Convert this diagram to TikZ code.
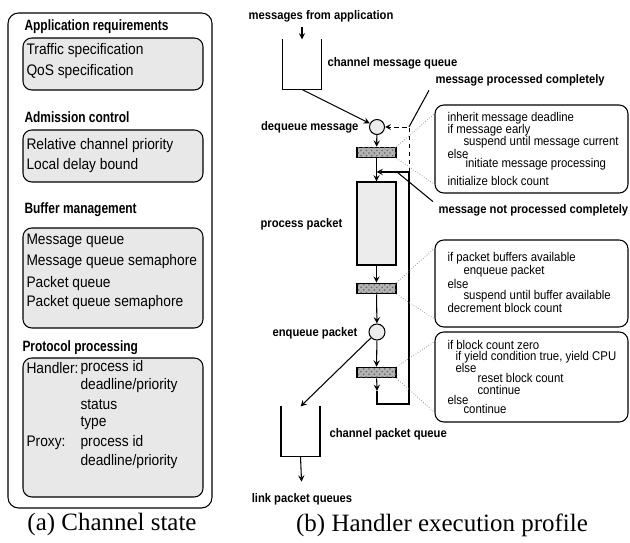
\documentclass[tikz,border=0pt]{standalone}
\usepackage{fontspec}
\setmainfont{Liberation Serif}
\newfontfamily\hv[FakeStretch=0.9]{Liberation Sans}
\newfontfamily\hvhead[FakeStretch=0.8]{Liberation Sans Bold}
\usepackage{tikz}
\usetikzlibrary{patterns}

\begin{document}
\begin{tikzpicture}[x = 0.02cm, y = -0.02cm, line width = 0.6pt,
                    head/.style = {anchor = west, inner sep = 0, font = \hvhead\fontsize{8.5}{10}\selectfont},
                    item/.style = {anchor = west, inner sep = 0, font = \hv\fontsize{8.7}{10}\selectfont},
                    lbl/.style = {inner sep = 0, font = \hv\bfseries\fontsize{7.1}{9}\selectfont},
                    txt/.style = {anchor = west, inner sep = 0, font = \hv\fontsize{7.2}{8}\selectfont},
                    panel/.style = {draw, rounded corners = 5pt, fill = gray!18},
                    note/.style = {draw, rounded corners = 5pt, minimum width = 3.86cm},
                    queue/.style = {minimum width = 0.76cm, minimum height = 0.98cm, inner sep = 0},
                    stage/.style = {draw, fill = gray!15, minimum width = 0.78cm, minimum height = 1.66cm, inner sep = 0},
                    block/.style = {draw, fill = gray!60, postaction = {pattern = crosshatch dots, pattern color = black!60},
                                    minimum width = 0.78cm, minimum height = 0.21cm, inner sep = 0},
                    point/.style = {circle, draw, fill = gray!15, minimum size = 0.3cm, inner sep = 0},
                    fan/.style = {densely dotted, gray!80, line width = 0.45pt},
                    caption/.style = {inner sep = 0, font = \fontsize{14.2}{16}\selectfont}]

\useasboundingbox (0,0) rectangle (630,543);

% (a) channel state
\draw[rounded corners = 6pt] (8,13) rectangle (212,508);

\draw[panel] (23,38) rectangle (203,90);
\draw[panel] (23,130) rectangle (203,182);
\draw[panel] (23,228) rectangle (203,328);
\draw[panel] (23,358) rectangle (203,497);

\node[head] (H1) at (24,27) {Application requirements};
\node[item] (I11) at (26,51) {Traffic specification};
\node[item] (I12) at (26,72) {QoS specification};

\node[head] (H2) at (24,117) {Admission control};
\node[item] (I21) at (26,146) {Relative channel priority};
\node[item] (I22) at (26,166) {Local delay bound};

\node[head] (H3) at (24,210) {Buffer management};
\node[item] (I31) at (26,241) {Message queue};
\node[item] (I32) at (26,262) {Message queue semaphore};
\node[item] (I33) at (26,284) {Packet queue};
\node[item] (I34) at (26,303) {Packet queue semaphore};

\node[head] (H4) at (22,348) {Protocol processing};
\node[item] (I41) at (26,368) {Handler:};
\node[item] (I42) at (80,368) {process id};
\node[item] (I43) at (80,386) {deadline/priority};
\node[item] (I44) at (80,405) {status};
\node[item] (I45) at (80,423) {type};
\node[item] (I46) at (26,443) {Proxy:};
\node[item] (I47) at (80,443) {process id};
\node[item] (I48) at (80,462) {deadline/priority};

\node[caption] (CA) at (112,525) {(a) Channel state};

% (b) handler execution profile
\node[lbl] (MFA) at (321,16) {messages from application};
\node[queue] (MQ) at (302,64.5) {};
\draw (MQ.north west) -- (MQ.south west) -- (MQ.south east) -- (MQ.north east);
\draw[-stealth] (MFA.south -| MQ.north) ++(0,5) -- (MQ.north);
\node[lbl, anchor = west] (CMQ) at (327,63) {channel message queue};

\node[point] (D1) at (377,127) {};
\node[block] (B1) at (376.5,152.5) {};
\node[stage] (P) at (376.5,223.5) {};
\node[block] (B2) at (376.5,288.5) {};
\node[point, minimum height = 0.32cm] (E) at (377,332) {};
\node[block] (B3) at (376.5,372.5) {};

\node[lbl, anchor = east] (DM) at (359,127) {dequeue message};
\node[lbl, anchor = west] (PP) at (260,224) {process packet};
\node[lbl, anchor = east] (EP) at (358,333) {enqueue packet};

\draw[-stealth] (MQ.south) -- (D1);
\draw[-stealth] (D1) -- (B1);
\draw[-stealth] (B1) -- (P);
\draw[-stealth] (P) -- (B2);
\draw[-stealth] (B2) -- (E);
\draw[-stealth] (E) -- (B3);

% feedback loop
\coordinate (A3) at (377,391);
\coordinate (L1) at (377,404);
\coordinate (L2) at (409,404);
\coordinate (L3) at (409,172);
\coordinate (L4) at (409,127);
\coordinate (J1) at (397,172);
\draw[-stealth] (B3) -- (A3);
\draw (A3) -- (L1) -- (L2) -- (L3);
\draw[-stealth] (L3) -- (L3 -| B1);
\draw[line width = 0.5pt, dash pattern = on 2.5pt off 2pt, -stealth] (L3) -- (L4) -- (D1);

\node[lbl, anchor = west] (MPC) at (435,80) {message processed completely};
\node[lbl, anchor = west] (MNPC) at (438,210) {message not processed completely};
\draw ([shift = {(-6,4)}]MPC.south west) -- (L4);
\draw ([shift = {(-5,-2)}]MNPC.north west) -- (J1);

% packet queue
\node[queue] (PQ) at (300.5,431.5) {};
\draw (PQ.north west) -- (PQ.south west) -- (PQ.south east) -- (PQ.north east);
\node[lbl, anchor = west] (CPQ) at (329,434) {channel packet queue};
\node[lbl] (LPQ) at (302,499) {link packet queues};
\draw[-stealth] (E) -- (PQ.north);
\draw[-stealth, shorten > = 0.22cm] (PQ.south) -- (LPQ.north);

% handler notes
\node[note, minimum height = 1.76cm] (C1) at (531.5,149) {};
\node[note, minimum height = 1.74cm] (C2) at (531.5,283.5) {};
\node[note, minimum height = 1.80cm] (C3) at (531.5,377) {};

\draw[fan] (B1.north east) -- (C1.160);
\draw[fan] (B1.south east) -- (C1.200);
\draw[fan] (B2.north east) -- (C2.160);
\draw[fan] (B2.south east) -- (C2.200);
\draw[fan] (B3.north east) -- (C3.160);
\draw[fan] (B3.south east) -- (C3.200);

\node[txt] (T11) at (447,118) {inherit message deadline};
\node[txt] (T12) at (447,130) {if message early};
\node[txt] (T13) at (463,142) {suspend until message current};
\node[txt] (T14) at (447,154) {else};
\node[txt] (T15) at (465,164) {initiate message processing};
\node[txt] (T16) at (447,181) {initialize block count};

\node[txt] (T21) at (447,258) {if packet buffers available};
\node[txt] (T22) at (463,271) {enqueue packet};
\node[txt] (T23) at (447,284) {else};
\node[txt] (T24) at (463,296) {suspend until buffer available};
\node[txt] (T25) at (447,308) {decrement block count};

\node[txt] (T31) at (447,345) {if block count zero};
\node[txt] (T32) at (455,357) {if yield condition true, yield CPU};
\node[txt] (T33) at (455,368) {else};
\node[txt] (T34) at (477,378) {reset block count};
\node[txt] (T35) at (477,390) {continue};
\node[txt] (T36) at (447,400) {else};
\node[txt] (T37) at (463,409) {continue};

\node[caption] (CB) at (442,525) {(b) Handler execution profile};

\end{tikzpicture}
\end{document}
